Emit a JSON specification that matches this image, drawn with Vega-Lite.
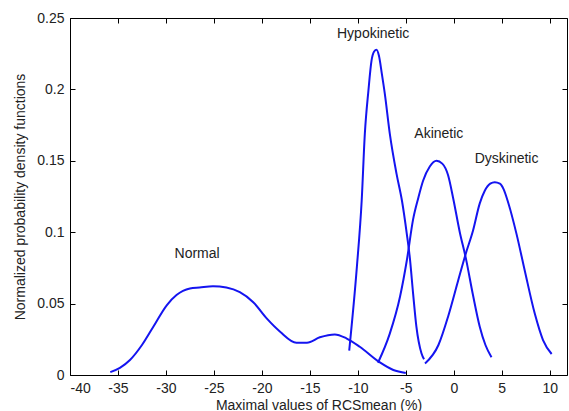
{
  "$schema": "https://vega.github.io/schema/vega-lite/v6.json",
  "width": 497,
  "height": 357,
  "autosize": {"type": "none"},
  "padding": {"left": 70, "top": 18, "right": 2, "bottom": 36},
  "background": "white",
  "config": {
    "view": {"stroke": "black", "strokeWidth": 1},
    "font": "Liberation Sans",
    "axis": {"grid": false, "domain": false, "tickColor": "black", "tickSize": 5, "offset": -5, "labelColor": "#222", "titleColor": "#222", "labelFont": "Liberation Sans", "titleFont": "Liberation Sans", "labelFontSize": 14, "titleFontSize": 14, "titleFontWeight": "normal"}
  },
  "datasets": {
    "curves": [
      {"g": "Normal", "x": -35.8, "y": 0.002},
      {"g": "Normal", "x": -34.8, "y": 0.005},
      {"g": "Normal", "x": -33.75, "y": 0.0105},
      {"g": "Normal", "x": -32.5, "y": 0.021},
      {"g": "Normal", "x": -31.3, "y": 0.034},
      {"g": "Normal", "x": -29.9, "y": 0.049},
      {"g": "Normal", "x": -28.9, "y": 0.056},
      {"g": "Normal", "x": -27.5, "y": 0.0606},
      {"g": "Normal", "x": -26.5, "y": 0.0613},
      {"g": "Normal", "x": -25.1, "y": 0.0622},
      {"g": "Normal", "x": -23.7, "y": 0.0613},
      {"g": "Normal", "x": -22.3, "y": 0.058},
      {"g": "Normal", "x": -20.9, "y": 0.051},
      {"g": "Normal", "x": -19.5, "y": 0.0396},
      {"g": "Normal", "x": -18.1, "y": 0.0303},
      {"g": "Normal", "x": -16.4, "y": 0.0226},
      {"g": "Normal", "x": -15.3, "y": 0.0226},
      {"g": "Normal", "x": -13.96, "y": 0.0264},
      {"g": "Normal", "x": -12.4, "y": 0.0284},
      {"g": "Normal", "x": -11.2, "y": 0.0257},
      {"g": "Normal", "x": -9.8, "y": 0.0198},
      {"g": "Normal", "x": -7.7, "y": 0.0088},
      {"g": "Normal", "x": -6.3, "y": 0.0035},
      {"g": "Normal", "x": -5.0, "y": 0.0014},
      {"g": "Hypokinetic", "x": -10.9, "y": 0.017},
      {"g": "Hypokinetic", "x": -10.1, "y": 0.0757},
      {"g": "Hypokinetic", "x": -9.6, "y": 0.122},
      {"g": "Hypokinetic", "x": -9.27, "y": 0.169},
      {"g": "Hypokinetic", "x": -8.9, "y": 0.199},
      {"g": "Hypokinetic", "x": -8.57, "y": 0.2203},
      {"g": "Hypokinetic", "x": -8.3, "y": 0.2265},
      {"g": "Hypokinetic", "x": -8.05, "y": 0.2278},
      {"g": "Hypokinetic", "x": -7.8, "y": 0.2235},
      {"g": "Hypokinetic", "x": -7.5, "y": 0.211},
      {"g": "Hypokinetic", "x": -7.19, "y": 0.197},
      {"g": "Hypokinetic", "x": -6.67, "y": 0.169},
      {"g": "Hypokinetic", "x": -5.97, "y": 0.141},
      {"g": "Hypokinetic", "x": -5.4, "y": 0.122},
      {"g": "Hypokinetic", "x": -4.9, "y": 0.099},
      {"g": "Hypokinetic", "x": -4.58, "y": 0.082},
      {"g": "Hypokinetic", "x": -4.24, "y": 0.057},
      {"g": "Hypokinetic", "x": -3.9, "y": 0.034},
      {"g": "Hypokinetic", "x": -3.37, "y": 0.0152},
      {"g": "Hypokinetic", "x": -3.1, "y": 0.011},
      {"g": "Akinetic", "x": -7.9, "y": 0.0086},
      {"g": "Akinetic", "x": -6.67, "y": 0.029},
      {"g": "Akinetic", "x": -5.6, "y": 0.055},
      {"g": "Akinetic", "x": -4.9, "y": 0.08},
      {"g": "Akinetic", "x": -4.24, "y": 0.109},
      {"g": "Akinetic", "x": -3.7, "y": 0.124},
      {"g": "Akinetic", "x": -3.2, "y": 0.136},
      {"g": "Akinetic", "x": -2.5, "y": 0.146},
      {"g": "Akinetic", "x": -1.8, "y": 0.15},
      {"g": "Akinetic", "x": -1.2, "y": 0.148},
      {"g": "Akinetic", "x": -0.6, "y": 0.14},
      {"g": "Akinetic", "x": -0.07, "y": 0.124},
      {"g": "Akinetic", "x": 0.625, "y": 0.1},
      {"g": "Akinetic", "x": 1.25, "y": 0.082},
      {"g": "Akinetic", "x": 2.0, "y": 0.056},
      {"g": "Akinetic", "x": 2.7, "y": 0.034},
      {"g": "Akinetic", "x": 3.3, "y": 0.021},
      {"g": "Akinetic", "x": 3.93, "y": 0.0124},
      {"g": "Dyskinetic", "x": -3.0, "y": 0.008},
      {"g": "Dyskinetic", "x": -1.6, "y": 0.021},
      {"g": "Dyskinetic", "x": -0.59, "y": 0.041},
      {"g": "Dyskinetic", "x": 0.45, "y": 0.066},
      {"g": "Dyskinetic", "x": 1.25, "y": 0.085},
      {"g": "Dyskinetic", "x": 2.0, "y": 0.101},
      {"g": "Dyskinetic", "x": 2.7, "y": 0.12},
      {"g": "Dyskinetic", "x": 3.23, "y": 0.129},
      {"g": "Dyskinetic", "x": 3.8, "y": 0.134},
      {"g": "Dyskinetic", "x": 4.27, "y": 0.135},
      {"g": "Dyskinetic", "x": 4.8, "y": 0.134},
      {"g": "Dyskinetic", "x": 5.2, "y": 0.13},
      {"g": "Dyskinetic", "x": 5.66, "y": 0.121},
      {"g": "Dyskinetic", "x": 6.53, "y": 0.099},
      {"g": "Dyskinetic", "x": 7.4, "y": 0.073},
      {"g": "Dyskinetic", "x": 8.44, "y": 0.043},
      {"g": "Dyskinetic", "x": 9.3, "y": 0.0245},
      {"g": "Dyskinetic", "x": 10.2, "y": 0.0147}
    ],
    "labels": [
      {"label": "Normal", "x": -26.75, "y": 0.0846},
      {"label": "Hypokinetic", "x": -8.4, "y": 0.2385},
      {"label": "Akinetic", "x": -1.56, "y": 0.169},
      {"label": "Dyskinetic", "x": 5.5, "y": 0.151}
    ]
  },
  "resolve": {"axis": {"x": "independent", "y": "independent"}},
  "layer": [
    {
      "data": {"name": "curves"},
      "mark": {"type": "line", "color": "#1414f0", "strokeWidth": 2, "interpolate": "monotone"},
      "encoding": {
        "x": {"field": "x", "type": "quantitative", "scale": {"domain": [-40, 11.8], "nice": false, "zero": false},
          "axis": {"values": [-40, -35, -30, -25, -20, -15, -10, -5, 0, 5, 10], "labelExpr": "datum.value + ''", "labelPadding": 6, "title": "Maximal values of RCSmean (%)", "titlePadding": 3}},
        "y": {"field": "y", "type": "quantitative", "scale": {"domain": [0, 0.25], "nice": false},
          "axis": {"values": [0, 0.05, 0.1, 0.15, 0.2, 0.25], "labelExpr": "datum.value + ''", "labelPadding": 6, "title": "Normalized probability density functions", "titlePadding": 9}},
        "detail": {"field": "g"}
      }
    },
    {
      "data": {"name": "labels"},
      "mark": {"type": "text", "fontSize": 14, "color": "#222", "font": "Liberation Sans"},
      "encoding": {
        "x": {"field": "x", "type": "quantitative", "axis": {"orient": "top", "values": [-40, -35, -30, -25, -20, -15, -10, -5, 0, 5, 10], "labels": false, "title": null}},
        "y": {"field": "y", "type": "quantitative", "axis": {"orient": "right", "values": [0, 0.05, 0.1, 0.15, 0.2, 0.25], "labels": false, "title": null}},
        "text": {"field": "label"}
      }
    }
  ]
}
